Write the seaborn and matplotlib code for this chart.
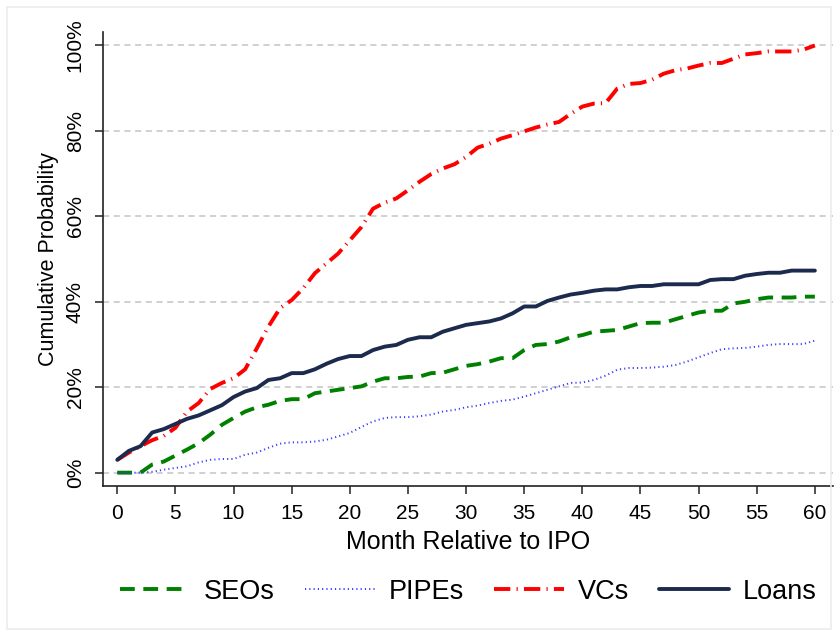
import numpy as np
import pandas as pd
import matplotlib
matplotlib.use("Agg")
import matplotlib.pyplot as plt
from matplotlib.patches import Rectangle
from matplotlib.ticker import PercentFormatter
import seaborn as sns

months = np.arange(0, 61)

# cumulative probability (%), months 0..60
seos = [0, 0, 0, 1.9, 2.6, 4.0, 5.4, 6.9, 8.9, 11.2,
        12.8, 14.3, 15.3, 15.9, 16.8, 17.2, 17.2, 18.6, 19.0, 19.4,
        19.8, 20.2, 21.3, 22.1, 22.1, 22.4, 22.5, 23.3, 23.4, 24.2,
        25.0, 25.4, 26.0, 26.8, 26.8, 28.7, 29.9, 30.1, 30.7, 31.7,
        32.2, 33.0, 33.2, 33.4, 34.2, 35.0, 35.1, 35.1, 35.9, 36.7,
        37.5, 37.9, 37.9, 39.6, 40.0, 40.6, 41.0, 41.0, 41.0, 41.2,
        41.2]
pipes = [0, 0, 0, 0.2, 0.7, 1.1, 1.5, 2.4, 3.0, 3.2,
         3.2, 4.2, 4.7, 5.8, 6.8, 7.1, 7.1, 7.3, 7.7, 8.5,
         9.3, 10.7, 12.0, 12.8, 13.0, 13.0, 13.2, 13.6, 14.3, 14.7,
         15.3, 15.7, 16.3, 16.8, 17.1, 17.8, 18.6, 19.4, 20.2, 21.0,
         21.1, 21.7, 22.7, 24.1, 24.5, 24.5, 24.6, 24.8, 25.2, 26.0,
         27.0, 28.0, 28.9, 29.1, 29.2, 29.5, 29.9, 30.1, 30.1, 30.1,
         30.9]
vcs = [3.0, 4.7, 6.2, 7.6, 8.6, 10.5, 14.3, 16.3, 19.6, 21.0,
       22.1, 24.2, 29.1, 34.2, 38.5, 40.4, 43.2, 46.7, 49.0, 51.3,
       54.4, 57.5, 61.8, 63.2, 64.2, 66.1, 68.1, 69.9, 71.2, 72.2,
       73.9, 76.1, 77.0, 78.2, 79.0, 79.9, 80.8, 81.5, 82.1, 84.0,
       85.7, 86.4, 86.5, 89.9, 91.0, 91.2, 92.0, 93.4, 94.2, 94.6,
       95.3, 95.9, 95.9, 96.9, 97.9, 98.2, 98.6, 98.6, 98.6, 99.0,
       100.0]
loans = [3.0, 5.1, 6.2, 9.4, 10.2, 11.4, 12.6, 13.4, 14.6, 15.8,
         17.7, 19.0, 19.8, 21.7, 22.1, 23.3, 23.3, 24.2, 25.5, 26.6,
         27.3, 27.3, 28.7, 29.5, 29.9, 31.1, 31.7, 31.7, 33.0, 33.8,
         34.6, 35.0, 35.4, 36.1, 37.3, 38.9, 38.9, 40.2, 41.0, 41.7,
         42.1, 42.6, 42.9, 42.9, 43.4, 43.7, 43.7, 44.1, 44.1, 44.1,
         44.1, 45.1, 45.3, 45.3, 46.1, 46.5, 46.8, 46.8, 47.3, 47.3,
         47.3]

series = ["SEOs", "PIPEs", "VCs", "Loans"]
df = pd.DataFrame({"month": np.tile(months, 4),
                   "prob": np.concatenate([seos, pipes, vcs, loans]),
                   "series": np.repeat(series, len(months))})

styles = {
    "SEOs": dict(color="#008000", lw=2.8, dashes=(3.8, 2.2)),
    "PIPEs": dict(color="#3a3aff", lw=1.4, dashes=(0.6, 1.6)),
    "VCs": dict(color="#ff0000", lw=2.8, dashes=(4.2, 1.6, 0.3, 1.6)),
    "Loans": dict(color="#1c2a4e", lw=2.8, dashes=None),
}

sns.set_style("white")
plt.rcParams["font.family"] = ["Liberation Sans", "DejaVu Sans"]
plt.rcParams.update({"text.color": "black", "axes.labelcolor": "black",
                     "xtick.color": "black", "ytick.color": "black"})

fig = plt.figure(figsize=(8.38, 6.36), dpi=100)
# faint outer frame of the graph region
fig.add_artist(Rectangle((7 / 838, 7 / 636), 1 - 14 / 838, 1 - 14 / 636,
                         transform=fig.transFigure, fill=False,
                         edgecolor="#ececec", linewidth=1.2))
ax = fig.add_axes([0.1226, 0.236, 0.872, 0.714])

for name in series:
    st = styles[name]
    sub = df[df["series"] == name]
    line = sns.lineplot(data=sub, x="month", y="prob", ax=ax, color=st["color"],
                        linewidth=st["lw"], label=name).lines[-1]
    if st["dashes"] is not None:
        line.set_dashes(st["dashes"])

ax.set_xlim(-1.25, 61.6)
ax.set_ylim(-3.1, 103.2)
ax.set_xticks(np.arange(0, 61, 5))
ax.set_yticks(np.arange(0, 101, 20))
ax.yaxis.set_major_formatter(PercentFormatter(100, decimals=0))
ax.grid(axis="y", color="#c4c4c4", linestyle=(0, (4, 3)), linewidth=1.1)
ax.grid(axis="x", visible=False)

for s in ["top", "right"]:
    ax.spines[s].set_visible(False)
for s in ["left", "bottom"]:
    ax.spines[s].set_color("#222222")
    ax.spines[s].set_linewidth(1.2)

ax.tick_params(axis="both", direction="out", length=6, width=1.1, color="#222222",
               labelsize=15, bottom=True, left=True)
ax.tick_params(axis="x", pad=7)
ax.tick_params(axis="y", pad=7)
plt.setp(ax.get_yticklabels(), rotation=90, va="center")

ax.set_xlabel("Month Relative to IPO", fontsize=18, labelpad=5)
ax.set_ylabel("Cumulative Probability", fontsize=15.5, labelpad=5)

ax.legend(loc="center", bbox_to_anchor=(0.5, -0.233), ncol=4, frameon=False,
          fontsize=19.5, handlelength=2.6, handletextpad=0.5, columnspacing=1.1)

fig.savefig("out.png", dpi=100)
